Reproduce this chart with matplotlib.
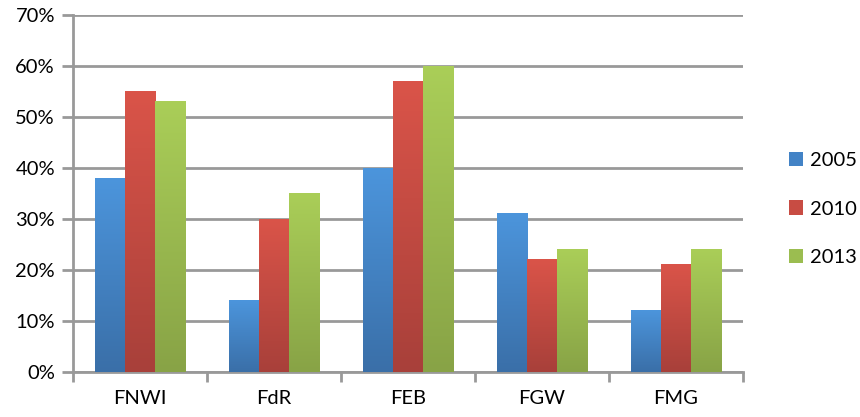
import matplotlib
matplotlib.use("Agg")
import matplotlib.pyplot as plt
import numpy as np
from matplotlib.colors import LinearSegmentedColormap
from matplotlib.patches import Patch
from matplotlib.ticker import FuncFormatter

categories = ["FNWI", "FdR", "FEB", "FGW", "FMG"]
series_names = ["2005", "2010", "2013"]
v2005 = [38, 14, 40, 31, 12]
v2010 = [55, 30, 57, 22, 21]
v2013 = [53, 35, 60, 24, 24]
yticks = [0, 10, 20, 30, 40, 50, 60, 70]

plt.rcParams['font.family'] = ['Lato', 'DejaVu Sans']

top_cols = ["#4C95DC", "#DA5449", "#AACE58"]
bot_cols = ["#3A6FA8", "#A8403A", "#88A346"]
mid_cols = ["#4383C6", "#C84C43", "#9BBD50"]

fig = plt.figure(figsize=(8.6, 4.17), dpi=100)
ax = fig.add_axes([73/860, 1-372/417, (743-73)/860, (372-15)/417])

x = np.arange(len(categories))
w = 0.224
data = [v2005, v2010, v2013]

for i, vals in enumerate(data):
    bars = ax.bar(x + (i-1)*w, vals, width=w, color=mid_cols[i], zorder=3,
                  linewidth=0, label=series_names[i])
    cmap = LinearSegmentedColormap.from_list("g%d" % i, [bot_cols[i], top_cols[i]])
    for b in bars:
        x0, y0 = b.get_x(), b.get_y()
        bw, bh = b.get_width(), b.get_height()
        ax.add_patch(plt.Rectangle((x0 + 0.008, y0), bw, bh, facecolor="#000000",
                                   alpha=0.05, zorder=2.5, linewidth=0))
        grad = np.linspace(0, 1, 256).reshape(-1, 1)
        ax.imshow(grad, extent=(x0, x0+bw, y0, y0+bh), origin="lower",
                  cmap=cmap, aspect="auto", zorder=4)

ax.set_xlim(-0.5, len(categories)-0.5)
ax.set_ylim(0, 70)

ax.set_yticks(yticks)
ax.yaxis.set_major_formatter(FuncFormatter(lambda v, p: "%d%%" % v))
ax.grid(axis="y", color="#999999", linewidth=2, zorder=1)
ax.set_axisbelow(True)

ax.set_xticks(x)
ax.set_xticklabels(categories)
ax.set_xticks(np.arange(-0.5, len(categories)), minor=True)
ax.tick_params(axis="x", which="major", length=0, pad=13, labelsize=14.5)
ax.tick_params(axis="x", which="minor", length=7, width=2, color="#999999")
ax.tick_params(axis="y", length=8, width=2, color="#999999", labelsize=14.5, pad=5)

for s in ["top", "right"]:
    ax.spines[s].set_visible(False)
ax.spines["left"].set_color("#999999")
ax.spines["left"].set_linewidth(2)
ax.spines["bottom"].set_color("#999999")
ax.spines["bottom"].set_linewidth(2)

handles = [Patch(facecolor=mid_cols[i], label=series_names[i]) for i in range(3)]
fig.legend(handles=handles, loc="center left", bbox_to_anchor=(789/860, 1-209/417),
           frameon=False, fontsize=14.5, handlelength=0.7, handleheight=0.7,
           handletextpad=0.35, labelspacing=1.55, borderpad=0, borderaxespad=0)

fig.savefig("out.png", dpi=100)
